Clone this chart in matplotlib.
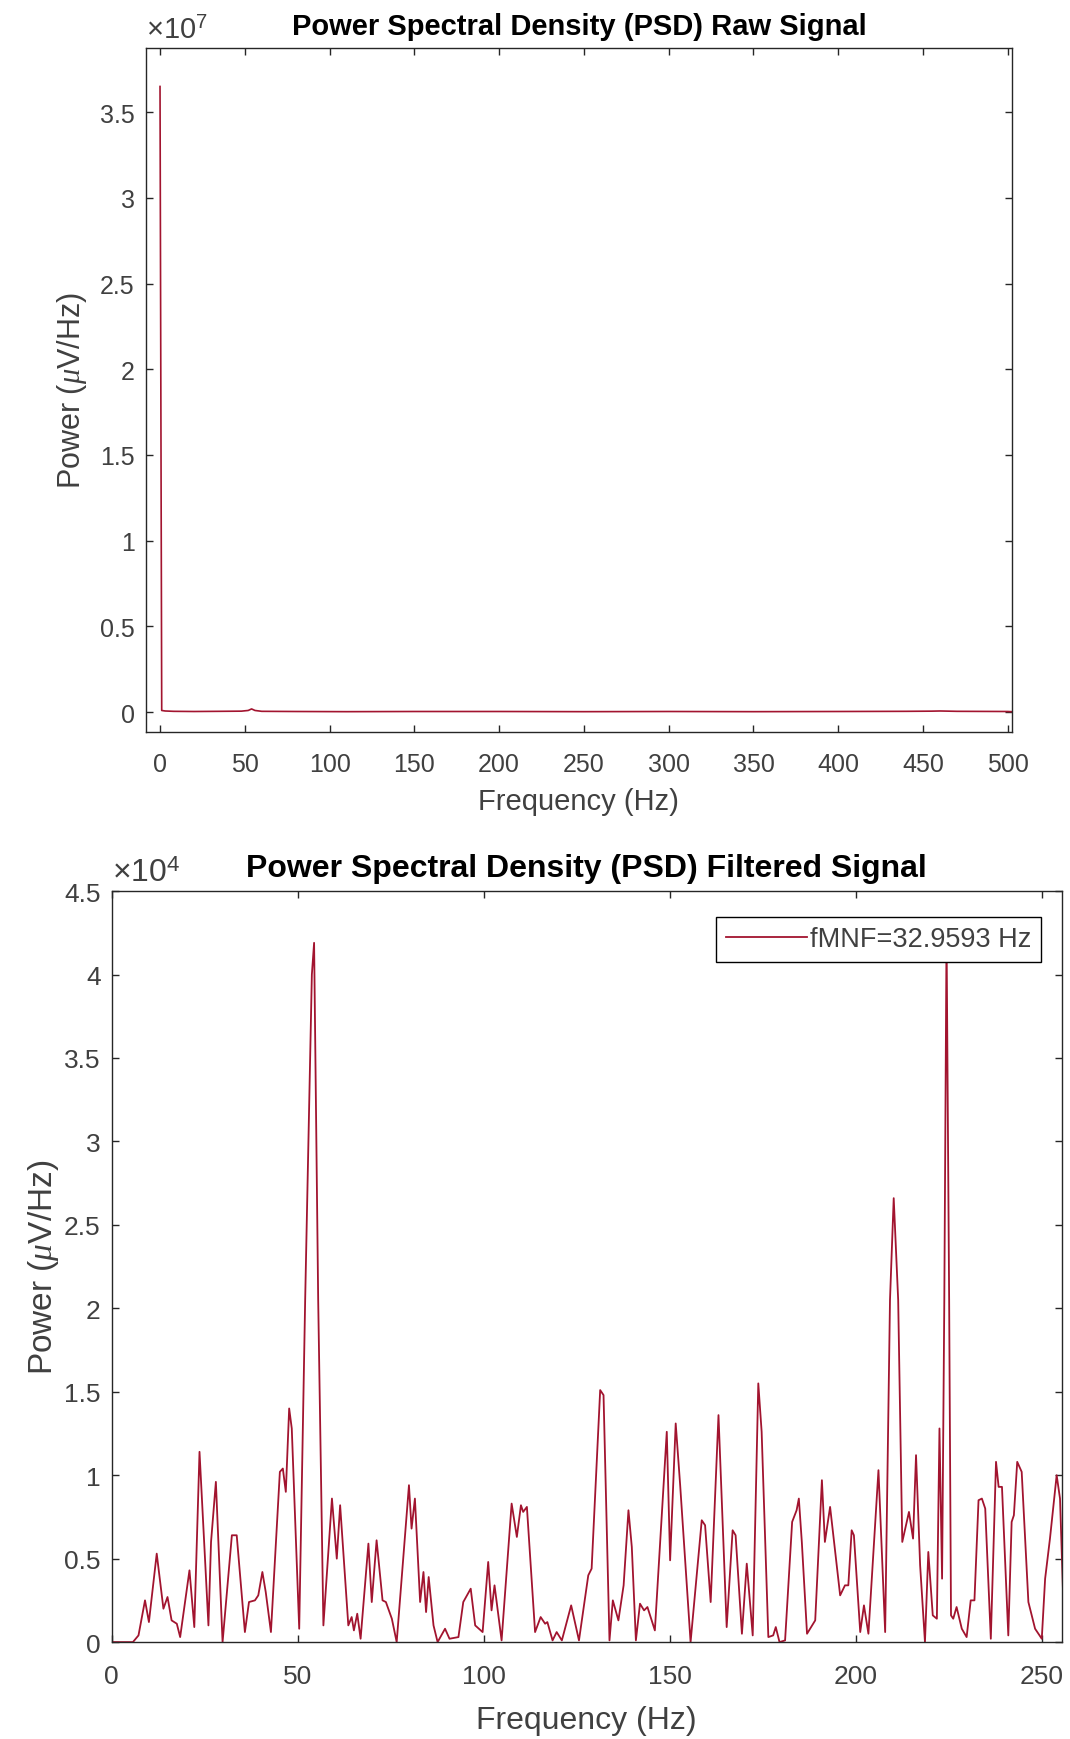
import matplotlib
matplotlib.use("Agg")
import matplotlib.pyplot as plt
from matplotlib.ticker import FuncFormatter
import numpy as np

# ---------------- data ----------------
raw_freq = [0, 1, 3, 8, 20, 35, 48, 52, 54, 56, 60, 80, 110, 150, 200, 250, 300,
            350, 400, 440, 455, 460, 470, 500, 502]
raw_power = [3.65e7, 9e4, 6e4, 4e4, 3e4, 4e4, 5e4, 9e4, 1.8e5, 9e4, 4e4, 3e4, 2e4,
             3e4, 3e4, 2e4, 3e4, 2e4, 3e4, 4e4, 5e4, 6e4, 4e4, 3e4, 2e4]

filt_freq = [0, 3, 5.7, 7.2, 8.95, 10.0, 12.1, 13.9, 15.0, 16.1, 17.5, 18.4, 20.9,
             22.2, 23.6, 26.0, 26.7, 28.0, 29.8, 32.3, 33.6, 35.8, 36.9, 38.5, 39.4,
             40.5, 41.4, 42.8, 45.2, 46.0, 46.8, 47.7, 48.4, 50.4, 52.0, 53.8, 54.4,
             55.5, 56.9, 59.2, 60.5, 61.4, 63.6, 64.5, 65.1, 66.0, 66.9, 69.0, 69.9,
             71.2, 72.8, 73.7, 75.3, 76.6, 79.9, 80.6, 81.5, 82.9, 83.8, 84.5, 85.2,
             86.5, 87.6, 89.6, 90.8, 93.2, 94.5, 96.5, 97.7, 99.7, 101.2, 102.1, 102.9,
             104.8, 107.5, 108.9, 110.0, 110.6, 111.6, 113.8, 115.3, 116.5, 117.1,
             118.5, 119.6, 121.0, 123.5, 125.6, 128.1, 129.0, 131.3, 132.2, 133.8,
             134.7, 136.2, 137.6, 138.9, 139.8, 140.9, 142.0, 143.1, 144.0, 146.0,
             149.2, 150.1, 151.6, 152.8, 155.6, 158.6, 159.5, 161.0, 163.1, 165.3,
             166.9, 167.7, 169.4, 170.7, 172.3, 173.8, 174.7, 176.5, 177.8, 178.5,
             179.5, 181.0, 182.9, 184.1, 184.7, 185.5, 186.9, 189.1, 190.9, 191.7,
             193.1, 195.8, 197.1, 198.0, 198.9, 199.5, 201.2, 202.2, 203.4, 206.1,
             207.9, 209.2, 210.2, 211.4, 212.5, 214.3, 215.4, 216.2, 217.3, 218.6,
             219.5, 220.7, 221.8, 222.5, 223.2, 223.8, 224.4, 225.1, 225.6, 226.2,
             227.1, 228.5, 229.8, 230.9, 231.9, 233.0, 233.9, 234.8, 236.3, 237.7,
             238.4, 239.3, 241.0, 241.9, 242.5, 243.4, 244.6, 246.4, 248.2, 250.0,
             250.9, 252.2, 254.0, 254.9, 256.0]
filt_power_e4 = [0, 0, 0.0, 0.04, 0.25, 0.12, 0.53, 0.2, 0.27, 0.13, 0.11, 0.03, 0.43,
                 0.09, 1.14, 0.1, 0.6, 0.96, 0.0, 0.64, 0.64, 0.06, 0.24, 0.25, 0.28,
                 0.42, 0.30, 0.06, 1.02, 1.04, 0.9, 1.40, 1.28, 0.08, 2.05, 4.0, 4.19,
                 2.05, 0.1, 0.86, 0.5, 0.82, 0.1, 0.15, 0.07, 0.17, 0.02, 0.59, 0.24,
                 0.61, 0.25, 0.24, 0.14, 0.0, 0.94, 0.68, 0.86, 0.24, 0.42, 0.18, 0.39,
                 0.1, 0.0, 0.08, 0.02, 0.03, 0.24, 0.32, 0.1, 0.06, 0.48, 0.19, 0.34,
                 0.01, 0.83, 0.63, 0.82, 0.78, 0.81, 0.06, 0.15, 0.11, 0.12,
                 0.01, 0.06, 0.01, 0.22, 0.01, 0.40, 0.44, 1.51, 1.48, 0.01,
                 0.25, 0.13, 0.34, 0.79, 0.57, 0.01, 0.23, 0.19, 0.21, 0.07,
                 1.26, 0.49, 1.31, 0.94, 0.0, 0.73, 0.70, 0.24, 1.36, 0.09,
                 0.67, 0.64, 0.05, 0.47, 0.04, 1.55, 1.26, 0.03, 0.04, 0.09,
                 0.0, 0.01, 0.72, 0.79, 0.86, 0.60, 0.05, 0.13, 0.97, 0.6,
                 0.81, 0.28, 0.34, 0.34, 0.67, 0.64, 0.06, 0.22, 0.05, 1.03,
                 0.06, 2.05, 2.66, 2.05, 0.6, 0.78, 0.62, 1.12, 0.46, 0.0,
                 0.54, 0.16, 0.14, 1.28, 0.38, 2.05, 4.25, 2.05, 0.16, 0.14,
                 0.21, 0.08, 0.03, 0.25, 0.25, 0.85, 0.86, 0.80, 0.02, 1.08,
                 0.93, 0.93, 0.04, 0.72, 0.76, 1.08, 1.02, 0.24, 0.08, 0.02,
                 0.38, 0.62, 1.0, 0.86, 0.1]

raw_xticks = [0, 50, 100, 150, 200, 250, 300, 350, 400, 450, 500]
raw_yticks = [0, 0.5e7, 1e7, 1.5e7, 2e7, 2.5e7, 3e7, 3.5e7]
filt_xticks = [0, 50, 100, 150, 200, 250]
filt_yticks = [0, 0.5e4, 1e4, 1.5e4, 2e4, 2.5e4, 3e4, 3.5e4, 4e4, 4.5e4]

legend_label = "fMNF=32.9593 Hz"
title_raw = "Power Spectral Density (PSD) Raw Signal"
title_filt = "Power Spectral Density (PSD) Filtered Signal"
xlabel = "Frequency (Hz)"
ylabel = r"Power ($\mu$V/Hz)"

# ---------------- style ----------------
plt.rcParams['font.family'] = ['Liberation Sans', 'DejaVu Sans']
plt.rcParams['mathtext.fontset'] = 'custom'
plt.rcParams['mathtext.it'] = 'Liberation Serif:italic'
plt.rcParams['mathtext.rm'] = 'Liberation Sans'
LINE = '#A2142F'
AX = '#262626'
TXT = '#404040'

fig = plt.figure(figsize=(10.7, 17.4), dpi=100)
ax1 = fig.add_axes([0.1364, 0.5787, 0.8093, 0.3931])
ax2 = fig.add_axes([0.1044, 0.0557, 0.8880, 0.4316])


def style(ax, fs, xpad, ypad):
    for s in ax.spines.values():
        s.set_color(AX)
        s.set_linewidth(1.0)
    ax.tick_params(direction='in', top=True, right=True, length=5, width=1,
                   color=AX, labelcolor=TXT, labelsize=fs)
    ax.tick_params(axis='x', pad=xpad)
    ax.tick_params(axis='y', pad=ypad)


# top
ax1.plot(raw_freq, raw_power, color=LINE, lw=1.2)
ax1.set_xlim(-8.3, 502.4)
ax1.set_ylim(-0.117e7, 3.874e7)
ax1.set_xticks(raw_xticks)
ax1.set_yticks(raw_yticks)
ax1.yaxis.set_major_formatter(FuncFormatter(lambda v, p: f"{v/1e7:g}"))
style(ax1, 18, 14, 8)
ax1.set_title(title_raw, fontsize=21, fontweight='bold', color='black', pad=10)
ax1.set_xlabel(xlabel, fontsize=21, color=TXT, labelpad=8)
ax1.set_ylabel(ylabel, fontsize=22, color=TXT, labelpad=8)
ax1.text(0.0, 1.006, r"$\times$10$^{7}$", transform=ax1.transAxes, fontsize=21,
         color=TXT, ha='left', va='bottom')

# bottom
ax2.plot(filt_freq, np.array(filt_power_e4) * 1e4, color=LINE, lw=1.3,
         label=legend_label)
ax2.set_xlim(0, 255.4)
ax2.set_ylim(0, 4.5e4)
ax2.set_xticks(filt_xticks)
ax2.set_yticks(filt_yticks)
ax2.yaxis.set_major_formatter(FuncFormatter(lambda v, p: f"{v/1e4:g}"))
style(ax2, 19, 16, 8)
ax2.set_title(title_filt, fontsize=23, fontweight='bold', color='black', pad=11)
ax2.set_xlabel(xlabel, fontsize=23, color=TXT, labelpad=12)
ax2.set_ylabel(ylabel, fontsize=24, color=TXT, labelpad=2)
ax2.text(0.0, 1.004, r"$\times$10$^{4}$", transform=ax2.transAxes, fontsize=23,
         color=TXT, ha='left', va='bottom')
leg = ax2.legend(loc='upper right', bbox_to_anchor=(0.9776, 0.966), borderaxespad=0,
                 fontsize=19.5, frameon=True, fancybox=False, handlelength=3.0,
                 handletextpad=0.1, borderpad=0.35, labelcolor=TXT)
leg.get_frame().set_edgecolor('black')
leg.get_frame().set_linewidth(1.0)
leg.get_frame().set_alpha(1.0)

fig.savefig("out.png", dpi=100, facecolor='white')
